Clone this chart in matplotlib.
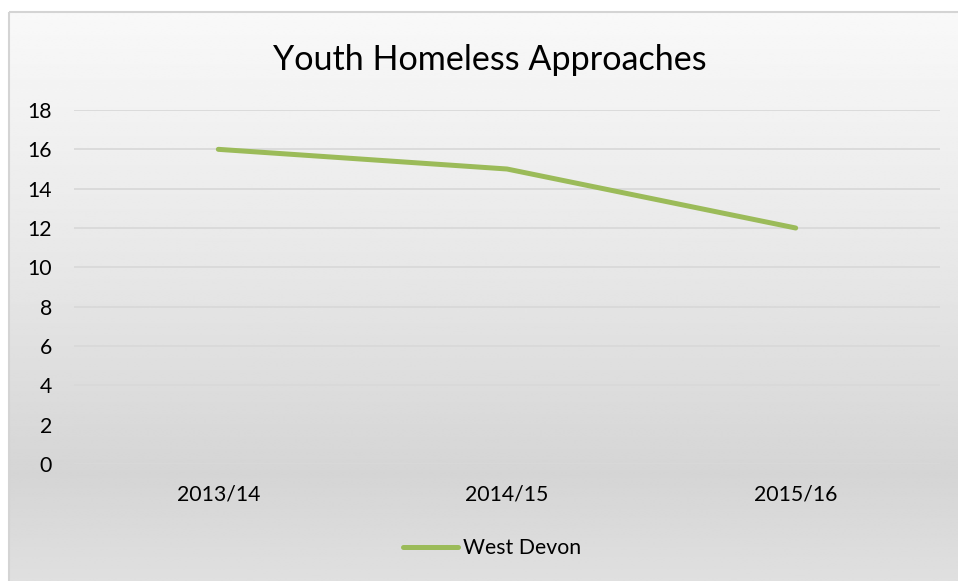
import numpy as np
import matplotlib
matplotlib.use("Agg")
import matplotlib.pyplot as plt
from matplotlib.patches import Rectangle

years = ["2013/14", "2014/15", "2015/16"]
west_devon = [16, 15, 12]
y_ticks = [0, 2, 4, 6, 8, 10, 12, 14, 16, 18]

W, H = 958, 581
plt.rcParams["font.family"] = ["Lato", "DejaVu Sans"]

fig = plt.figure(figsize=(W / 100, H / 100), dpi=100)
fig.patch.set_facecolor("white")

# chart-area background: vertical gray gradient with a thin border
bg = fig.add_axes([0, 0, 1, 1], zorder=-1)
bg.axis("off")
stops_y = np.array([0.0, 0.45, 0.80, 1.0])
stops_c = np.array([0.975, 0.905, 0.835, 0.88])
t = np.linspace(0, 1, 300)
shade = np.interp(t, stops_y, stops_c)
grad = np.repeat(shade[:, None], 2, axis=1)
bg.imshow(grad, cmap="gray", vmin=0, vmax=1, aspect="auto",
          extent=(10, W + 20, H + 10, 11), interpolation="bilinear")
bg.add_patch(Rectangle((9.5, 11.5), W + 30, H + 30, fill=False,
                       edgecolor="#d4d4d4", linewidth=1.5))
bg.set_xlim(0, W)
bg.set_ylim(H, 0)

# plot area
left, right, top, bottom = 74, 940, 110, 464
ax = fig.add_axes([left / W, 1 - bottom / H, (right - left) / W, (bottom - top) / H])
ax.set_facecolor("none")
x = np.arange(len(years))
ax.plot(x, west_devon, color="#9BBB59", linewidth=3.6,
        solid_capstyle="round", solid_joinstyle="round", label="West Devon", zorder=3)
ax.set_xlim(-0.5, len(years) - 0.5)
ax.set_ylim(0, 18)
ax.set_yticks(y_ticks)
ax.set_xticks(x)
ax.set_xticklabels(years)
ax.grid(axis="y", color="#d9d9d9", linewidth=1.3)
ax.set_axisbelow(True)
for s in ax.spines.values():
    s.set_visible(False)
ax.tick_params(axis="both", length=0, labelsize=15.3, colors="#000000")
ax.tick_params(axis="y", pad=16)
ax.tick_params(axis="x", pad=15)

fig.text(490 / W, 1 - 60 / H, "Youth Homeless Approaches", ha="center", va="center",
         fontsize=24.6, color="#000000")

leg = ax.legend(loc="center", bbox_to_anchor=(492 / W, 1 - 548 / H),
                bbox_transform=fig.transFigure, frameon=False, fontsize=15.3,
                handlelength=2.6, handletextpad=0.2)

fig.savefig("out.png", dpi=100)
